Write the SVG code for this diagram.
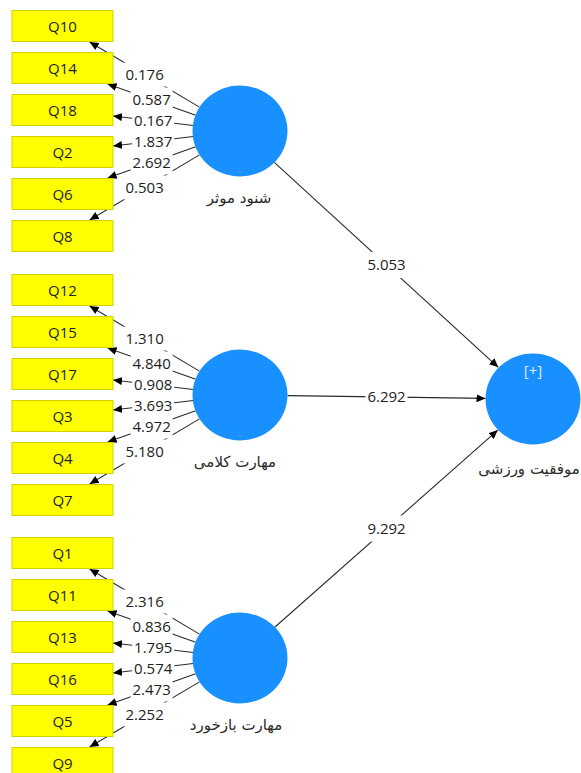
<svg xmlns="http://www.w3.org/2000/svg" width="581" height="773" viewBox="0 0 581 773">
<style>
.box{fill:#ffff00;stroke:#d2d200;stroke-width:1}
.bt{font-family:"Open Sans","Noto Sans",sans-serif;font-size:15px;fill:#222;text-anchor:middle}
.lv{fill:#1890ff}
.ln{font-family:"DejaVu Sans","Noto Sans",sans-serif;font-size:15px;fill:#2a2a2a;text-anchor:middle;direction:rtl}
.pl{font-family:"Open Sans","Noto Sans",sans-serif;font-size:15px;fill:#dce8ff;text-anchor:middle}
.c{stroke:#2a2a2a;stroke-width:1.1;fill:none;marker-end:url(#ah)}
.bg{fill:#fff}
.lab{font-family:"Open Sans","Noto Sans",sans-serif;font-size:15px;fill:#222;text-anchor:middle}
</style>
<defs>
<marker id="ah" markerUnits="userSpaceOnUse" markerWidth="10" markerHeight="8" refX="9" refY="4" orient="auto">
<path d="M0,0 L9,4 L0,8 z" fill="#000"/>
</marker>
</defs>
<rect width="581" height="773" fill="#fff"/>

<g id="connectors">
<line class="c" x1="199.5" y1="107.1" x2="89.6" y2="42"/>
<line class="c" x1="195.7" y1="115.3" x2="107.6" y2="84"/>
<line class="c" x1="193.3" y1="125.5" x2="113" y2="116"/>
<line class="c" x1="193.3" y1="136.5" x2="113" y2="146"/>
<line class="c" x1="195.7" y1="146.7" x2="107.6" y2="178"/>
<line class="c" x1="199.5" y1="154.9" x2="89.6" y2="220"/>

<line class="c" x1="199.5" y1="371.1" x2="89.6" y2="306"/>
<line class="c" x1="195.7" y1="379.3" x2="107.6" y2="348"/>
<line class="c" x1="193.3" y1="389.5" x2="113" y2="380"/>
<line class="c" x1="193.3" y1="400.5" x2="113" y2="410"/>
<line class="c" x1="195.7" y1="410.7" x2="107.6" y2="442"/>
<line class="c" x1="199.5" y1="418.9" x2="89.6" y2="484"/>

<line class="c" x1="199.5" y1="634.1" x2="89.6" y2="569"/>
<line class="c" x1="195.7" y1="642.3" x2="107.6" y2="611"/>
<line class="c" x1="193.3" y1="652.5" x2="113" y2="643"/>
<line class="c" x1="193.3" y1="663.5" x2="113" y2="673"/>
<line class="c" x1="195.7" y1="673.7" x2="107.6" y2="705"/>
<line class="c" x1="199.5" y1="681.9" x2="89.6" y2="747"/>

<line class="c" x1="274.3" y1="162.4" x2="498.3" y2="367.3"/>
<line class="c" x1="287.5" y1="395.6" x2="485.5" y2="398.4"/>
<line class="c" x1="275" y1="627" x2="497.8" y2="430.1"/>

<g id="label-bg">
<rect class="bg" x="123.6" y="62.5" width="42" height="24"/>
<rect class="bg" x="130.6" y="87.6" width="42" height="24"/>
<rect class="bg" x="132.2" y="108.7" width="42" height="24"/>
<rect class="bg" x="132.2" y="129.3" width="42" height="24"/>
<rect class="bg" x="130.6" y="150.4" width="42" height="24"/>
<rect class="bg" x="123.6" y="175.5" width="42" height="24"/>

<rect class="bg" x="123.6" y="326.5" width="42" height="24"/>
<rect class="bg" x="130.6" y="351.6" width="42" height="24"/>
<rect class="bg" x="132.2" y="372.7" width="42" height="24"/>
<rect class="bg" x="132.2" y="393.3" width="42" height="24"/>
<rect class="bg" x="130.6" y="414.4" width="42" height="24"/>
<rect class="bg" x="123.6" y="439.5" width="42" height="24"/>

<rect class="bg" x="123.6" y="589.5" width="42" height="24"/>
<rect class="bg" x="130.6" y="614.6" width="42" height="24"/>
<rect class="bg" x="132.2" y="635.7" width="42" height="24"/>
<rect class="bg" x="132.2" y="656.3" width="42" height="24"/>
<rect class="bg" x="130.6" y="677.4" width="42" height="24"/>
<rect class="bg" x="123.6" y="702.5" width="42" height="24"/>

<rect class="bg" x="365.5" y="252" width="42" height="26"/>
<rect class="bg" x="365.5" y="386" width="42" height="22"/>
<rect class="bg" x="365.5" y="515.5" width="42" height="26"/>
</g>

<g id="labels">
<text class="lab" x="144.6" y="79.8">0.176</text>
<text class="lab" x="151.6" y="104.9">0.587</text>
<text class="lab" x="153.2" y="126">0.167</text>
<text class="lab" x="153.2" y="146.6">1.837</text>
<text class="lab" x="151.6" y="167.7">2.692</text>
<text class="lab" x="144.6" y="192.8">0.503</text>

<text class="lab" x="144.6" y="343.8">1.310</text>
<text class="lab" x="151.6" y="368.9">4.840</text>
<text class="lab" x="153.2" y="390">0.908</text>
<text class="lab" x="153.2" y="410.6">3.693</text>
<text class="lab" x="151.6" y="431.7">4.972</text>
<text class="lab" x="144.6" y="456.8">5.180</text>

<text class="lab" x="144.6" y="606.8">2.316</text>
<text class="lab" x="151.6" y="631.9">0.836</text>
<text class="lab" x="153.2" y="653">1.795</text>
<text class="lab" x="153.2" y="673.6">0.574</text>
<text class="lab" x="151.6" y="694.7">2.473</text>
<text class="lab" x="144.6" y="719.8">2.252</text>

<text class="lab" x="386.5" y="270.3">5.053</text>
<text class="lab" x="386.5" y="402.3">6.292</text>
<text class="lab" x="386.5" y="533.8">9.292</text>
</g>
</g>

<g id="Q10"><rect class="box" x="12" y="10.5" width="101" height="31"/><text class="bt" x="62.5" y="31.5">Q10</text></g>
<g id="Q14"><rect class="box" x="12" y="52.5" width="101" height="31"/><text class="bt" x="62.5" y="73.5">Q14</text></g>
<g id="Q18"><rect class="box" x="12" y="94.5" width="101" height="31"/><text class="bt" x="62.5" y="115.5">Q18</text></g>
<g id="Q2"><rect class="box" x="12" y="136.5" width="101" height="31"/><text class="bt" x="62.5" y="157.5">Q2</text></g>
<g id="Q6"><rect class="box" x="12" y="178.5" width="101" height="31"/><text class="bt" x="62.5" y="199.5">Q6</text></g>
<g id="Q8"><rect class="box" x="12" y="220.5" width="101" height="31"/><text class="bt" x="62.5" y="241.5">Q8</text></g>

<g id="Q12"><rect class="box" x="12" y="274.5" width="101" height="31"/><text class="bt" x="62.5" y="295.5">Q12</text></g>
<g id="Q15"><rect class="box" x="12" y="316.5" width="101" height="31"/><text class="bt" x="62.5" y="337.5">Q15</text></g>
<g id="Q17"><rect class="box" x="12" y="358.5" width="101" height="31"/><text class="bt" x="62.5" y="379.5">Q17</text></g>
<g id="Q3"><rect class="box" x="12" y="400.5" width="101" height="31"/><text class="bt" x="62.5" y="421.5">Q3</text></g>
<g id="Q4"><rect class="box" x="12" y="442.5" width="101" height="31"/><text class="bt" x="62.5" y="463.5">Q4</text></g>
<g id="Q7"><rect class="box" x="12" y="484.5" width="101" height="31"/><text class="bt" x="62.5" y="505.5">Q7</text></g>

<g id="Q1"><rect class="box" x="12" y="537.5" width="101" height="31"/><text class="bt" x="62.5" y="558.5">Q1</text></g>
<g id="Q11"><rect class="box" x="12" y="579.5" width="101" height="31"/><text class="bt" x="62.5" y="600.5">Q11</text></g>
<g id="Q13"><rect class="box" x="12" y="621.5" width="101" height="31"/><text class="bt" x="62.5" y="642.5">Q13</text></g>
<g id="Q16"><rect class="box" x="12" y="663.5" width="101" height="31"/><text class="bt" x="62.5" y="684.5">Q16</text></g>
<g id="Q5"><rect class="box" x="12" y="705.5" width="101" height="31"/><text class="bt" x="62.5" y="726.5">Q5</text></g>
<g id="Q9"><rect class="box" x="12" y="747.5" width="101" height="31"/><text class="bt" x="62.5" y="768.5">Q9</text></g>

<g id="shonud"><ellipse class="lv" cx="240" cy="131" rx="47.5" ry="45.5"/><text class="ln" x="239" y="203">شنود موثر</text></g>
<g id="kalami"><ellipse class="lv" cx="240" cy="395" rx="47.5" ry="45.5"/><text class="ln" x="235" y="467">مهارت کلامی</text></g>
<g id="bazkhord"><ellipse class="lv" cx="240" cy="658" rx="47.5" ry="45.5"/><text class="ln" x="236" y="730">مهارت بازخورد</text></g>
<g id="movafaghiat"><ellipse class="lv" cx="533" cy="399" rx="47.5" ry="45.5"/><text class="pl" x="533" y="376">[+]</text><text class="ln" x="529" y="474">موفقیت ورزشی</text></g>
</svg>
